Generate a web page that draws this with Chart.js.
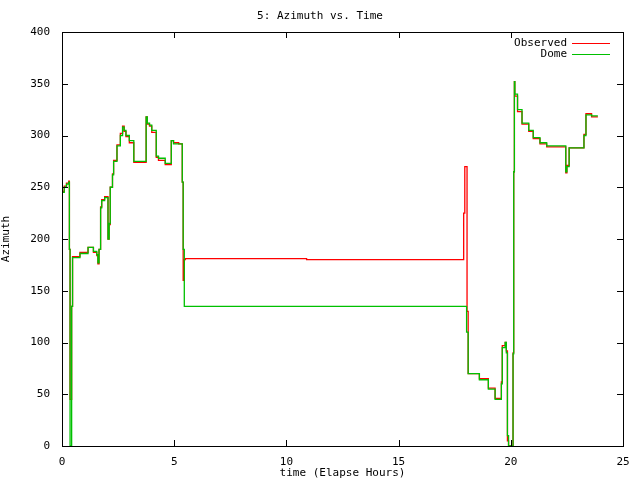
<!DOCTYPE html>
<html>
<head>
<script src="https://cdn.jsdelivr.net/npm/chart.js@4/dist/chart.umd.min.js"></script>
<style>body{margin:0;background:#fff}#wrap{width:640px;height:480px}</style>
</head>
<body>
<div id="wrap"><canvas id="chart"></canvas></div>
<script>
// elapsed hours and azimuth
const domeTime = [0, 0.1, 0.2, 0.3, 0.33, 0.36, 0.36, 0.43, 0.43, 0.47, 0.47, 0.8, 1.16, 1.4, 1.55, 1.6, 1.65, 1.72, 1.77, 1.9, 2.05, 2.1, 2.15, 2.25, 2.3, 2.45, 2.6, 2.7, 2.77, 2.85, 3.0, 3.2, 3.3, 3.75, 3.8, 3.9, 4.0, 4.2, 4.3, 4.6, 4.87, 4.97, 5.2, 5.36, 5.4, 5.45, 5.45, 10.0, 18.03, 18.1, 18.2, 18.6, 19.0, 19.3, 19.58, 19.62, 19.75, 19.8, 19.85, 19.9, 19.95, 20.1, 20.13, 20.16, 20.18, 20.3, 20.5, 20.8, 21.0, 21.3, 21.6, 21.9, 22.45, 22.5, 22.6, 22.68, 23.26, 23.35, 23.4, 23.6, 23.88];
const domeAz = [230, 245, 250, 253, 255, 190, 0, 0, 135, 135, 180, 182, 186, 192, 188, 185, 177, 190, 230, 237, 240, 200, 215, 250, 262, 275, 290, 300, 308, 305, 300, 295, 275, 275, 318, 312, 310, 305, 280, 278, 273, 295, 292, 292, 255, 190, 135, 135, 135, 110, 70, 70, 64, 55, 45, 60, 95, 100, 90, 10, 0, 0, 89, 265, 352, 340, 325, 312, 305, 298, 293, 290, 290, 265, 270, 288, 288, 300, 320, 320, 319];
const obsTime = [0, 0.1, 0.2, 0.3, 0.33, 0.36, 0.36, 0.43, 0.43, 0.47, 0.47, 0.8, 1.16, 1.4, 1.55, 1.6, 1.65, 1.72, 1.77, 1.9, 2.05, 2.1, 2.15, 2.25, 2.3, 2.45, 2.6, 2.7, 2.77, 2.85, 3.0, 3.2, 3.3, 3.75, 3.8, 3.9, 4.0, 4.2, 4.3, 4.6, 4.87, 4.97, 5.2, 5.36, 5.4, 5.45, 5.5, 5.55, 10.9, 10.9, 17.9, 17.95, 18.0, 18.05, 18.1, 18.15, 18.6, 19.0, 19.3, 19.58, 19.62, 19.75, 19.8, 19.85, 19.9, 19.95, 20.1, 20.13, 20.16, 20.18, 20.3, 20.5, 20.8, 21.0, 21.3, 21.6, 21.9, 22.45, 22.5, 22.6, 22.68, 23.26, 23.35, 23.4, 23.6, 23.88];
const obsAz = [230, 246, 251, 254, 256, 190, 45, 45, 135, 135, 180, 183, 187, 192, 187, 184, 176, 190, 231, 238, 241, 200, 214, 250, 263, 276, 291, 302, 309, 304, 299, 293, 274, 274, 318, 311, 309, 303, 279, 276, 272, 295, 293, 292, 255, 160, 180, 181, 181, 180, 180, 225, 270, 270, 130, 70, 70, 65, 56, 46, 62, 97, 100, 92, 5, 0, 0, 90, 265, 352, 338, 323, 311, 304, 297, 292, 289, 289, 264, 271, 288, 288, 301, 321, 321, 318];
const seriesNames = ['Observed', 'Dome'];
const xTicks = [0, 5, 10, 15, 20, 25];
const yTicks = [0, 50, 100, 150, 200, 250, 300, 350, 400];

const FONT = '11px "DejaVu Sans Mono", monospace';
const pts = (t, a) => t.map((v, i) => ({x: v, y: a[i]}));

const gnuplotLook = {
  id: 'gnuplotLook',
  afterDraw(chart) {
    const {ctx, chartArea: a, scales: {x, y}} = chart;
    ctx.save();
    ctx.strokeStyle = '#000';
    ctx.lineWidth = 1;
    ctx.strokeRect(a.left + 0.5, a.top + 0.5, a.right - a.left, a.bottom - a.top);
    ctx.beginPath();
    xTicks.forEach(v => {
      const px = Math.round(x.getPixelForValue(v)) + 0.5;
      ctx.moveTo(px, a.bottom); ctx.lineTo(px, a.bottom - 6);
      ctx.moveTo(px, a.top); ctx.lineTo(px, a.top + 6);
    });
    yTicks.forEach(v => {
      const py = Math.round(y.getPixelForValue(v)) + 0.5;
      ctx.moveTo(a.left, py); ctx.lineTo(a.left + 6, py);
      ctx.moveTo(a.right, py); ctx.lineTo(a.right - 6, py);
    });
    ctx.stroke();
    ctx.font = FONT;
    ctx.fillStyle = '#000';
    ctx.textAlign = 'center';
    ctx.textBaseline = 'middle';
    ctx.fillText('5: Azimuth vs. Time', 320, 16);
    // legend
    ctx.textAlign = 'right';
    chart.data.datasets.forEach((ds, i) => {
      const ly = 43 + i * 11;
      ctx.fillStyle = '#000';
      ctx.fillText(ds.label, 567, ly);
      ctx.strokeStyle = ds.borderColor;
      ctx.beginPath();
      ctx.moveTo(572, ly + 0.5); ctx.lineTo(610, ly + 0.5);
      ctx.stroke();
    });
    ctx.restore();
  }
};

new Chart(document.getElementById('chart'), {
  type: 'scatter',
  data: {
    datasets: [
      {label: seriesNames[0], data: pts(obsTime, obsAz), borderColor: '#ff0000', order: 2},
      {label: seriesNames[1], data: pts(domeTime, domeAz), borderColor: '#00c000', order: 1}
    ].map(d => Object.assign(d, {showLine: true, pointRadius: 0, borderWidth: 1.3, stepped: 'after'}))
  },
  options: {
    responsive: true,
    maintainAspectRatio: false,
    animation: false,
    layout: {padding: {top: 32, right: 17, left: 0, bottom: 0}},
    plugins: {legend: {display: false}, tooltip: {enabled: false}},
    scales: {
      x: {
        type: 'linear', min: 0, max: 25,
        afterBuildTicks: s => { s.ticks = xTicks.map(v => ({value: v})); },
        afterFit: s => { s.height = 34; },
        grid: {display: false}, border: {display: false},
        ticks: {color: '#000', font: {family: 'DejaVu Sans Mono', size: 11}, maxRotation: 0, padding: 2},
        title: {display: true, text: 'time (Elapse Hours)', color: '#000', font: {family: 'DejaVu Sans Mono', size: 11}, padding: 0}
      },
      y: {
        min: 0, max: 400,
        afterBuildTicks: s => { s.ticks = yTicks.map(v => ({value: v})); },
        afterFit: s => { s.width = 62; },
        grid: {display: false}, border: {display: false},
        ticks: {color: '#000', font: {family: 'DejaVu Sans Mono', size: 11}, padding: 4},
        title: {display: true, text: 'Azimuth', color: '#000', font: {family: 'DejaVu Sans Mono', size: 11}, padding: 0}
      }
    }
  },
  plugins: [gnuplotLook]
});
</script>
</body>
</html>
